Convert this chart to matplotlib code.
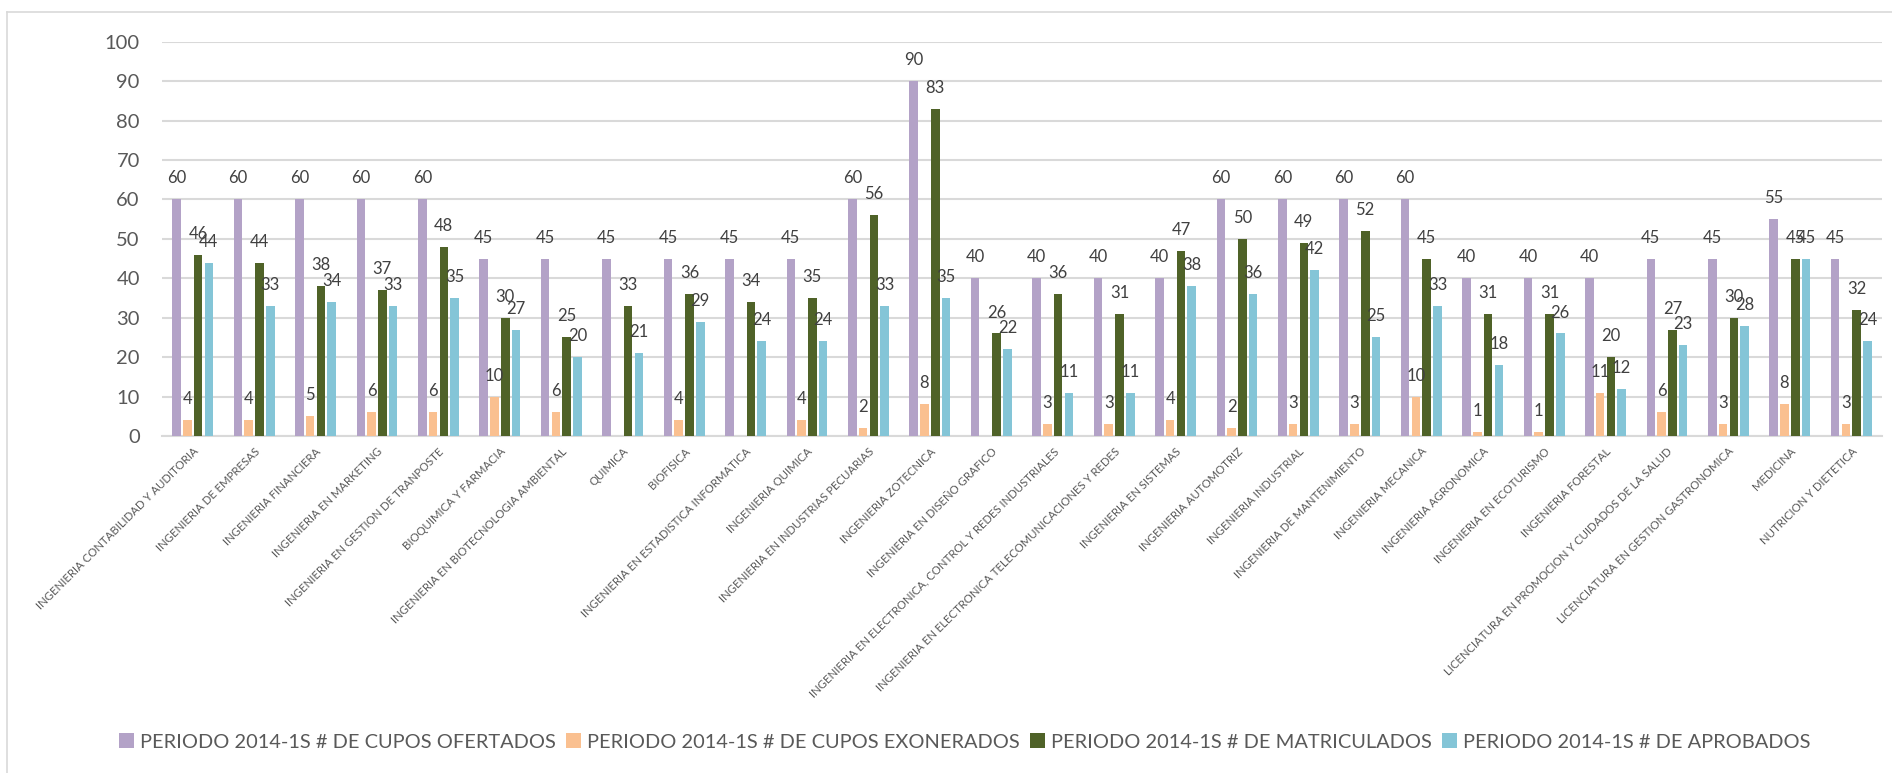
import numpy as np
import matplotlib
matplotlib.use("Agg")
import matplotlib.pyplot as plt
from matplotlib.patches import Patch
from matplotlib.lines import Line2D

plt.rcParams['font.family'] = ['Lato', 'DejaVu Sans']

# program names (as written in the source chart)
carreras = [
    'INGENIERIA CONTABILIDAD Y AUDITORIA',
    'INGENIERIA DE EMPRESAS',
    'INGENIERIA FINANCIERA',
    'INGENIERIA EN MARKETING',
    'INGENIERIA EN GESTION DE TRANPOSTE',
    'BIOQUIMICA Y FARMACIA',
    'INGENIERIA EN BIOTECNOLOGIA AMBIENTAL',
    'QUIMICA',
    'BIOFISICA',
    'INGENIERIA EN ESTADISTICA INFORMATICA',
    'INGENIERIA QUIMICA',
    'INGENIERIA EN INDUSTRIAS PECUARIAS',
    'INGENIERIA ZOTECNICA',
    'INGENIERIA EN DISEÑO GRAFICO',
    'INGENIERIA EN ELECTRONICA, CONTROL Y REDES INDUSTRIALES',
    'INGENIERIA EN ELECTRONICA TELECOMUNICACIONES Y REDES',
    'INGENIERIA EN SISTEMAS',
    'INGENIERIA AUTOMOTRIZ',
    'INGENIERIA INDUSTRIAL',
    'INGENIERIA DE MANTENIMIENTO',
    'INGENIERIA MECANICA',
    'INGENIERIA AGRONOMICA',
    'INGENIERIA EN ECOTURISMO',
    'INGENIERIA FORESTAL',
    'LICENCIATURA EN PROMOCION Y CUIDADOS DE LA SALUD',
    'LICENCIATURA EN GESTION GASTRONOMICA',
    'MEDICINA',
    'NUTRICION Y DIETETICA',
]

nan = np.nan
ofertados = [60, 60, 60, 60, 60, 45, 45, 45, 45, 45, 45, 60, 90, 40,
             40, 40, 40, 60, 60, 60, 60, 40, 40, 40, 45, 45, 55, 45]
exonerados = [4, 4, 5, 6, 6, 10, 6, nan, 4, nan, 4, 2, 8, nan,
              3, 3, 4, 2, 3, 3, 10, 1, 1, 11, 6, 3, 8, 3]
matriculados = [46, 44, 38, 37, 48, 30, 25, 33, 36, 34, 35, 56, 83, 26,
                36, 31, 47, 50, 49, 52, 45, 31, 31, 20, 27, 30, 45, 32]
aprobados = [44, 33, 34, 33, 35, 27, 20, 21, 29, 24, 24, 33, 35, 22,
             11, 11, 38, 36, 42, 25, 33, 18, 26, 12, 23, 28, 45, 24]

series = [
    ('PERIODO 2014-1S # DE CUPOS OFERTADOS', ofertados, '#B3A2C7'),
    ('PERIODO 2014-1S # DE CUPOS EXONERADOS', exonerados, '#FAC090'),
    ('PERIODO 2014-1S # DE MATRICULADOS', matriculados, '#4F6228'),
    ('PERIODO 2014-1S # DE APROBADOS', aprobados, '#84C5D7'),
]

fig = plt.figure(figsize=(18.92, 7.73), dpi=100)
ax = fig.add_axes([162 / 1892, 1 - 436 / 773, 1720 / 1892, (436 - 41.7) / 773])

x = np.arange(len(carreras))
step = 0.175
width = 0.14
grid_col = '#D9D9D9'

for i, (name, vals, col) in enumerate(series):
    vals = np.array(vals, dtype=float)
    pos = x + (i - 1.5) * step
    ax.bar(pos, np.nan_to_num(vals), width=width, color=col, zorder=3)
    for px, v in zip(pos, vals):
        if np.isnan(v):
            continue
        ax.annotate(f'{int(v)}', (px, v), xytext=(0, 11.5), textcoords='offset points',
                    ha='center', va='baseline', fontsize=12, color='#404040', zorder=4)

ax.set_xlim(-0.5, len(carreras) - 0.5)
ax.set_ylim(0, 100)
ax.set_yticks(range(0, 101, 10))
ax.yaxis.grid(True, color=grid_col, linewidth=1.5, zorder=0)
ax.set_axisbelow(True)
for s in ['top', 'right', 'left']:
    ax.spines[s].set_visible(False)
ax.spines['bottom'].set_color(grid_col)
ax.spines['bottom'].set_linewidth(1.5)
ax.tick_params(axis='y', length=0, pad=16, labelsize=14.5, labelcolor='#595959')
ax.tick_params(axis='x', length=0, pad=7)
ax.set_xticks(x)
ax.set_xticklabels(carreras, rotation=45, ha='right', va='top', rotation_mode='anchor',
                   fontsize=8.2, color='#595959')

handles = [Patch(facecolor=c, edgecolor='none') for _, _, c in series]
fig.legend(handles, [n for n, _, _ in series], loc='center', bbox_to_anchor=(0.51, 1 - 742 / 773),
           ncol=4, frameon=False, fontsize=14.4, labelcolor='#595959',
           handlelength=0.75, handleheight=0.75, handletextpad=0.3, columnspacing=0.5)

# chart area border (top and left visible)
fig.add_artist(Line2D([7 / 1892, 1.01], [1 - 12 / 773] * 2, color=grid_col, linewidth=1.2,
                      transform=fig.transFigure))
fig.add_artist(Line2D([7 / 1892] * 2, [-0.01, 1 - 12 / 773], color=grid_col, linewidth=1.2,
                      transform=fig.transFigure))

fig.savefig('out.png', dpi=100)
